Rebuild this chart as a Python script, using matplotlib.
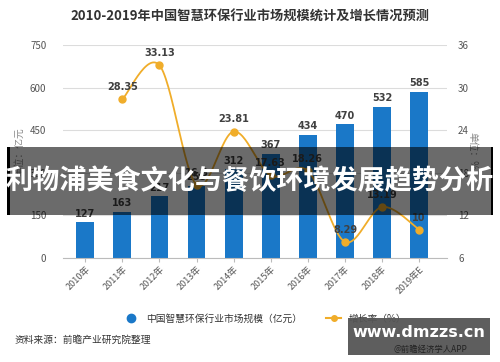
import numpy as np
import matplotlib
matplotlib.use("Agg")
import matplotlib.pyplot as plt
from matplotlib.lines import Line2D
from matplotlib.patches import Rectangle

plt.rcParams['font.family'] = ['Noto Sans CJK SC', 'DejaVu Sans']

years = ["2010年", "2011年", "2012年", "2013年", "2014年", "2015年", "2016年", "2017年", "2018年", "2019年E"]
market = [127, 163, 217, 255, 312, 367, 434, 470, 532, 585]
growth_years = years[1:]
growth = [28.35, 33.13, 16.3, 23.81, 17.63, 18.26, 8.29, 13.19, 10]
growth_labels = ["28.35", "33.13", "16.3", "23.81", "17.63", "18.26", "8.29", "13.19", "10"]
left_ticks = [0, 150, 300, 450, 600, 750]
right_ticks = [6, 12, 18, 24, 30, 36]

BAR = "#1a78c8"
LINE = "#f0ad2a"
TXT = "#404040"
GRID = "#dcdcdc"

fig = plt.figure(figsize=(5.0, 3.62), dpi=100)
fig.patch.set_facecolor("white")
ax = fig.add_axes([0.126, 0.287, 0.768, 0.589])
ax2 = ax.twinx()

x = np.arange(len(years))
ax.bar(x, market, width=0.48, color=BAR, zorder=2)
for xi, v in zip(x, market):
    ax.text(xi, v + 12, str(v), ha="center", va="bottom", fontsize=7, fontweight="bold", color=TXT, family=['DejaVu Sans'])

ax.set_ylim(0, 750)
ax.set_yticks(left_ticks)
ax.set_xlim(-0.6, 9.75)
ax.grid(axis="y", color=GRID, linewidth=0.8, zorder=0)
ax.set_axisbelow(True)
for s in ["top", "left", "right"]:
    ax.spines[s].set_visible(False)
ax.spines["bottom"].set_color("#bbbbbb")
ax.set_xticks(x)
ax.set_xticklabels(years, rotation=45, ha="right", rotation_mode="anchor", fontsize=6.5, color="#555555")
ax.tick_params(axis="x", length=3, color="#bbbbbb", pad=2)
ax.tick_params(axis="y", length=0, labelsize=7, labelcolor="#555555", pad=12)
ax.set_ylabel("单位：亿元", fontsize=7, color="#888888", labelpad=4)

# growth line (Catmull-Rom smoothed through data points)
gx = np.arange(1, len(years)).astype(float)
gy = np.array(growth, dtype=float)
px = np.concatenate([[gx[0]], gx, [gx[-1]]])
py = np.concatenate([[gy[0]], gy, [gy[-1]]])
cx, cy = [], []
t = np.linspace(0, 1, 30)
for i in range(1, len(px) - 2):
    for arr, out in ((px, cx), (py, cy)):
        p0, p1, p2, p3 = arr[i - 1], arr[i], arr[i + 1], arr[i + 2]
        seg = 0.5 * ((2 * p1) + (-p0 + p2) * t + (2 * p0 - 5 * p1 + 4 * p2 - p3) * t ** 2 + (-p0 + 3 * p1 - 3 * p2 + p3) * t ** 3)
        out.extend(seg)
ax2.plot(cx, cy, color=LINE, linewidth=1.3, zorder=3)
ax2.plot(gx, gy, "o", color=LINE, markersize=5, zorder=4)
for xi, v, lab in zip(gx, gy, growth_labels):
    ax2.text(xi, v + 1.0, lab, ha="center", va="bottom", fontsize=7, fontweight="bold", color=TXT, family=['DejaVu Sans'])
ax2.set_ylim(6, 36)
ax2.set_yticks(right_ticks)
for s in ["top", "left", "right", "bottom"]:
    ax2.spines[s].set_visible(False)
ax2.tick_params(axis="y", length=0, labelsize=7, labelcolor="#555555", pad=8)
ax2.set_ylabel("单位：%", fontsize=7, color="#888888", rotation=-90, labelpad=6)

fig.text(0.5, 0.955, "2010-2019年中国智慧环保行业市场规模统计及增长情况预测", ha="center", va="center",
         fontsize=9.5, fontweight="bold", color="#333333")

handles = [Line2D([], [], marker="o", linestyle="none", color=BAR, markersize=6),
           Line2D([], [], marker="o", color=LINE, markersize=4, linewidth=1.5)]
fig.legend(handles, ["中国智慧环保行业市场规模（亿元）", "增长率（%）"], loc="center", bbox_to_anchor=(0.53, 0.12),
           ncol=2, frameon=False, fontsize=7, handlelength=1.5, columnspacing=2.5, labelcolor="#333333")

fig.text(0.03, 0.06, "资料来源：前瞻产业研究院整理", ha="left", va="center", fontsize=7, color="#333333")

# overlay banner
fig.patches.append(Rectangle((0.014, 0.405), 0.972, 0.19, transform=fig.transFigure, facecolor="black", alpha=0.58, zorder=10))
fig.patches.append(Rectangle((0.014, 0.405), 0.005, 0.19, transform=fig.transFigure, facecolor="black", zorder=11))
fig.patches.append(Rectangle((0.981, 0.405), 0.005, 0.19, transform=fig.transFigure, facecolor="black", zorder=11))
fig.text(0.5, 0.5, "利物浦美食文化与餐饮环境发展趋势分析", ha="center", va="center", fontsize=19.5,
         fontweight="bold", color="white", zorder=12)

# watermark box
fig.patches.append(Rectangle((0.696, 0.02), 0.284, 0.102, transform=fig.transFigure, facecolor="#555555", alpha=0.95, zorder=10))
fig.text(0.838, 0.082, "www.dmzzs.cn", ha="center", va="center", fontsize=11.5, fontweight="bold", color="white", zorder=12, family=['DejaVu Sans'])
fig.text(0.86, 0.035, "@前瞻经济学人APP", ha="center", va="center", fontsize=6, color="#222222", zorder=12)

fig.savefig("out.png", dpi=100)
